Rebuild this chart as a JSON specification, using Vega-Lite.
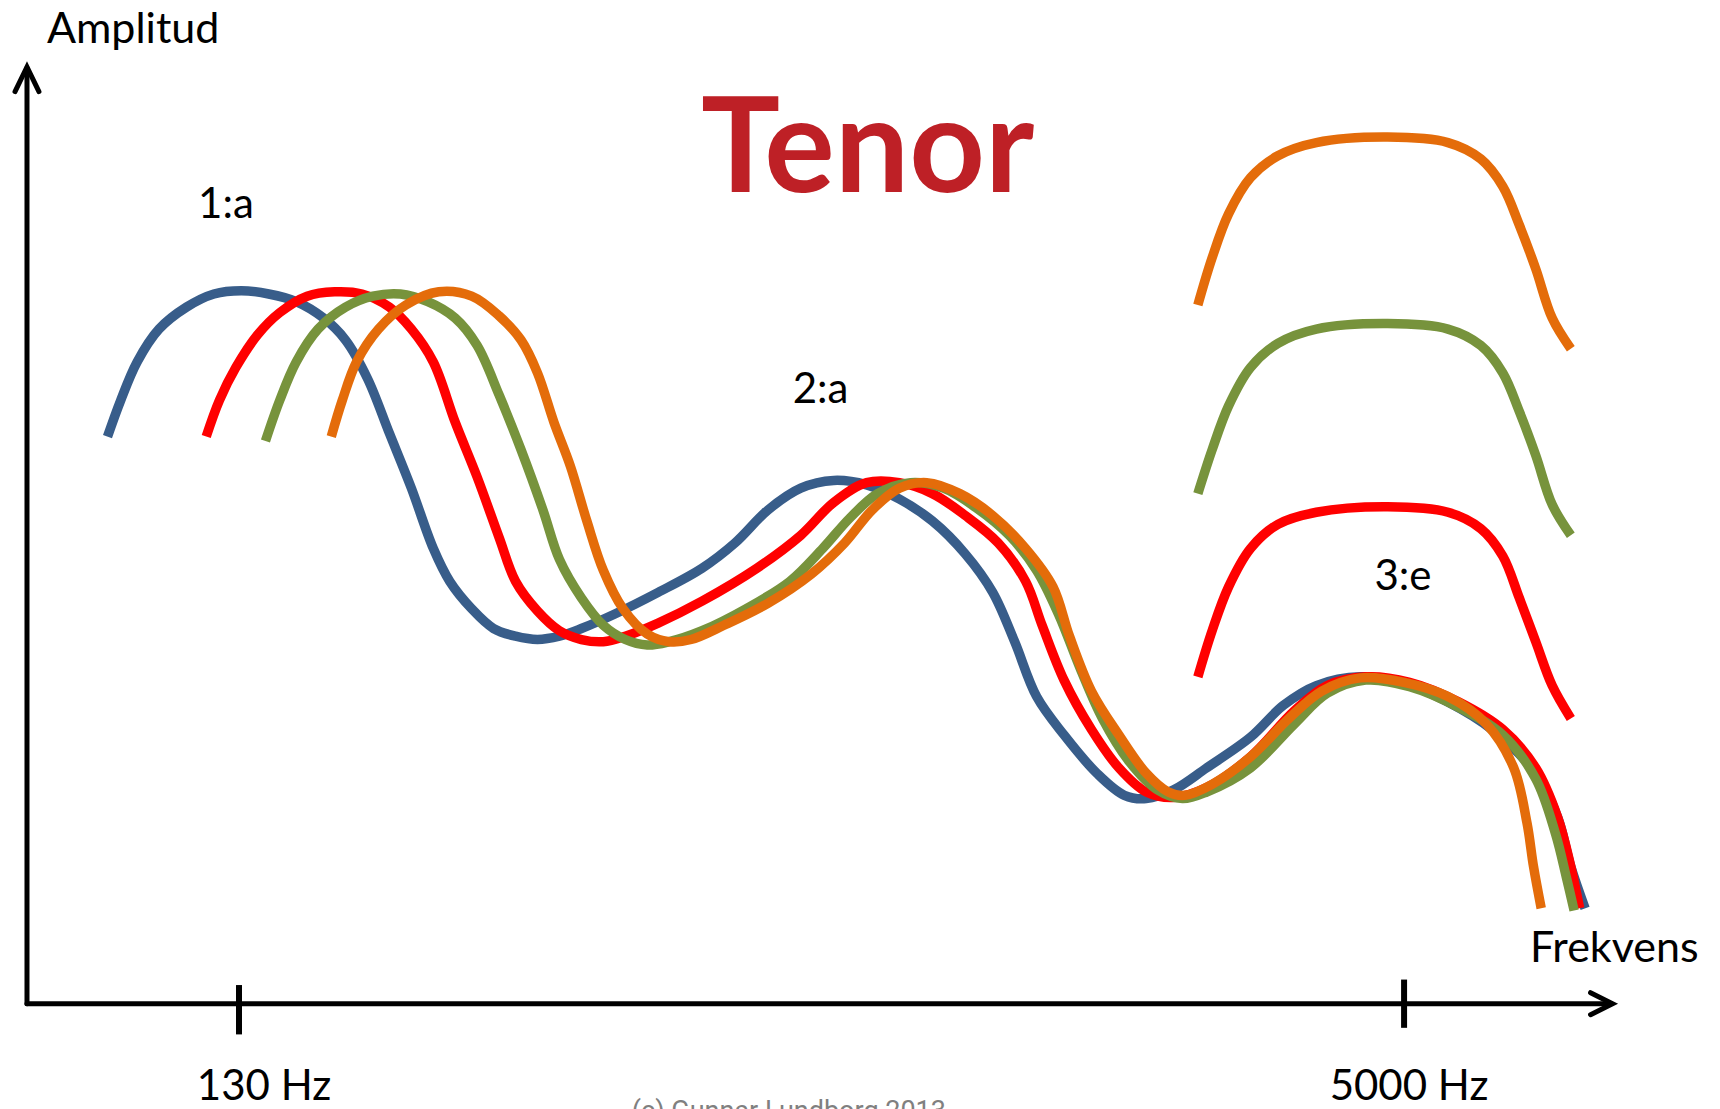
{
  "$schema": "https://vega.github.io/schema/vega-lite/v6.json",
  "width": 1720,
  "height": 1109,
  "padding": 0,
  "autosize": {"type": "none"},
  "background": "white",
  "config": {"view": {"stroke": null}},
  "datasets": {
    "curves": [
      {"kurva": "A", "del": "1", "x": 98, "y": 398},
      {"kurva": "A", "del": "1", "x": 110, "y": 365},
      {"kurva": "A", "del": "1", "x": 125, "y": 330},
      {"kurva": "A", "del": "1", "x": 145, "y": 300},
      {"kurva": "A", "del": "1", "x": 170, "y": 280},
      {"kurva": "A", "del": "1", "x": 195, "y": 268},
      {"kurva": "A", "del": "1", "x": 220, "y": 265},
      {"kurva": "A", "del": "1", "x": 245, "y": 268},
      {"kurva": "A", "del": "1", "x": 270, "y": 275},
      {"kurva": "A", "del": "1", "x": 295, "y": 290},
      {"kurva": "A", "del": "1", "x": 315, "y": 310},
      {"kurva": "A", "del": "1", "x": 335, "y": 345},
      {"kurva": "A", "del": "1", "x": 355, "y": 395},
      {"kurva": "A", "del": "1", "x": 375, "y": 445},
      {"kurva": "A", "del": "1", "x": 395, "y": 500},
      {"kurva": "A", "del": "1", "x": 410, "y": 530},
      {"kurva": "A", "del": "1", "x": 430, "y": 555},
      {"kurva": "A", "del": "1", "x": 450, "y": 573},
      {"kurva": "A", "del": "1", "x": 470, "y": 580},
      {"kurva": "A", "del": "1", "x": 490, "y": 583},
      {"kurva": "A", "del": "1", "x": 510, "y": 580},
      {"kurva": "A", "del": "1", "x": 530, "y": 573},
      {"kurva": "A", "del": "1", "x": 560, "y": 560},
      {"kurva": "A", "del": "1", "x": 600, "y": 540},
      {"kurva": "A", "del": "1", "x": 640, "y": 518},
      {"kurva": "A", "del": "1", "x": 670, "y": 495},
      {"kurva": "A", "del": "1", "x": 700, "y": 465},
      {"kurva": "A", "del": "1", "x": 730, "y": 445},
      {"kurva": "A", "del": "1", "x": 760, "y": 438},
      {"kurva": "A", "del": "1", "x": 790, "y": 442},
      {"kurva": "A", "del": "1", "x": 820, "y": 455},
      {"kurva": "A", "del": "1", "x": 850, "y": 475},
      {"kurva": "A", "del": "1", "x": 880, "y": 505},
      {"kurva": "A", "del": "1", "x": 905, "y": 540},
      {"kurva": "A", "del": "1", "x": 925, "y": 585},
      {"kurva": "A", "del": "1", "x": 945, "y": 635},
      {"kurva": "A", "del": "1", "x": 970, "y": 670},
      {"kurva": "A", "del": "1", "x": 1000, "y": 705},
      {"kurva": "A", "del": "1", "x": 1025, "y": 725},
      {"kurva": "A", "del": "1", "x": 1045, "y": 728},
      {"kurva": "A", "del": "1", "x": 1070, "y": 720},
      {"kurva": "A", "del": "1", "x": 1100, "y": 700},
      {"kurva": "A", "del": "1", "x": 1140, "y": 672},
      {"kurva": "A", "del": "1", "x": 1170, "y": 643},
      {"kurva": "A", "del": "1", "x": 1200, "y": 625},
      {"kurva": "A", "del": "1", "x": 1240, "y": 617},
      {"kurva": "A", "del": "1", "x": 1280, "y": 623},
      {"kurva": "A", "del": "1", "x": 1320, "y": 640},
      {"kurva": "A", "del": "1", "x": 1360, "y": 665},
      {"kurva": "A", "del": "1", "x": 1400, "y": 705},
      {"kurva": "A", "del": "1", "x": 1420, "y": 745},
      {"kurva": "A", "del": "1", "x": 1432, "y": 790},
      {"kurva": "A", "del": "1", "x": 1445, "y": 828},

      {"kurva": "B", "del": "1", "x": 188, "y": 398},
      {"kurva": "B", "del": "1", "x": 200, "y": 365},
      {"kurva": "B", "del": "1", "x": 215, "y": 335},
      {"kurva": "B", "del": "1", "x": 235, "y": 305},
      {"kurva": "B", "del": "1", "x": 255, "y": 285},
      {"kurva": "B", "del": "1", "x": 280, "y": 270},
      {"kurva": "B", "del": "1", "x": 305, "y": 266},
      {"kurva": "B", "del": "1", "x": 330, "y": 268},
      {"kurva": "B", "del": "1", "x": 355, "y": 280},
      {"kurva": "B", "del": "1", "x": 375, "y": 300},
      {"kurva": "B", "del": "1", "x": 395, "y": 330},
      {"kurva": "B", "del": "1", "x": 415, "y": 385},
      {"kurva": "B", "del": "1", "x": 435, "y": 435},
      {"kurva": "B", "del": "1", "x": 455, "y": 490},
      {"kurva": "B", "del": "1", "x": 470, "y": 530},
      {"kurva": "B", "del": "1", "x": 490, "y": 557},
      {"kurva": "B", "del": "1", "x": 510, "y": 575},
      {"kurva": "B", "del": "1", "x": 530, "y": 583},
      {"kurva": "B", "del": "1", "x": 550, "y": 585},
      {"kurva": "B", "del": "1", "x": 570, "y": 580},
      {"kurva": "B", "del": "1", "x": 600, "y": 568},
      {"kurva": "B", "del": "1", "x": 640, "y": 548},
      {"kurva": "B", "del": "1", "x": 690, "y": 518},
      {"kurva": "B", "del": "1", "x": 730, "y": 488},
      {"kurva": "B", "del": "1", "x": 760, "y": 458},
      {"kurva": "B", "del": "1", "x": 790, "y": 440},
      {"kurva": "B", "del": "1", "x": 820, "y": 440},
      {"kurva": "B", "del": "1", "x": 850, "y": 450},
      {"kurva": "B", "del": "1", "x": 880, "y": 470},
      {"kurva": "B", "del": "1", "x": 910, "y": 495},
      {"kurva": "B", "del": "1", "x": 935, "y": 530},
      {"kurva": "B", "del": "1", "x": 950, "y": 570},
      {"kurva": "B", "del": "1", "x": 970, "y": 620},
      {"kurva": "B", "del": "1", "x": 995, "y": 665},
      {"kurva": "B", "del": "1", "x": 1020, "y": 700},
      {"kurva": "B", "del": "1", "x": 1045, "y": 722},
      {"kurva": "B", "del": "1", "x": 1070, "y": 727},
      {"kurva": "B", "del": "1", "x": 1100, "y": 718},
      {"kurva": "B", "del": "1", "x": 1140, "y": 690},
      {"kurva": "B", "del": "1", "x": 1180, "y": 648},
      {"kurva": "B", "del": "1", "x": 1210, "y": 625},
      {"kurva": "B", "del": "1", "x": 1245, "y": 617},
      {"kurva": "B", "del": "1", "x": 1285, "y": 622},
      {"kurva": "B", "del": "1", "x": 1330, "y": 640},
      {"kurva": "B", "del": "1", "x": 1370, "y": 665},
      {"kurva": "B", "del": "1", "x": 1400, "y": 700},
      {"kurva": "B", "del": "1", "x": 1420, "y": 745},
      {"kurva": "B", "del": "1", "x": 1432, "y": 790},
      {"kurva": "B", "del": "1", "x": 1440, "y": 828},

      {"kurva": "C", "del": "1", "x": 242, "y": 402},
      {"kurva": "C", "del": "1", "x": 255, "y": 365},
      {"kurva": "C", "del": "1", "x": 270, "y": 330},
      {"kurva": "C", "del": "1", "x": 290, "y": 300},
      {"kurva": "C", "del": "1", "x": 315, "y": 280},
      {"kurva": "C", "del": "1", "x": 340, "y": 270},
      {"kurva": "C", "del": "1", "x": 365, "y": 268},
      {"kurva": "C", "del": "1", "x": 390, "y": 275},
      {"kurva": "C", "del": "1", "x": 415, "y": 290},
      {"kurva": "C", "del": "1", "x": 435, "y": 315},
      {"kurva": "C", "del": "1", "x": 455, "y": 360},
      {"kurva": "C", "del": "1", "x": 475, "y": 410},
      {"kurva": "C", "del": "1", "x": 495, "y": 465},
      {"kurva": "C", "del": "1", "x": 510, "y": 510},
      {"kurva": "C", "del": "1", "x": 530, "y": 545},
      {"kurva": "C", "del": "1", "x": 550, "y": 570},
      {"kurva": "C", "del": "1", "x": 570, "y": 583},
      {"kurva": "C", "del": "1", "x": 590, "y": 588},
      {"kurva": "C", "del": "1", "x": 610, "y": 585},
      {"kurva": "C", "del": "1", "x": 640, "y": 575},
      {"kurva": "C", "del": "1", "x": 680, "y": 555},
      {"kurva": "C", "del": "1", "x": 720, "y": 530},
      {"kurva": "C", "del": "1", "x": 750, "y": 500},
      {"kurva": "C", "del": "1", "x": 775, "y": 472},
      {"kurva": "C", "del": "1", "x": 800, "y": 450},
      {"kurva": "C", "del": "1", "x": 830, "y": 440},
      {"kurva": "C", "del": "1", "x": 860, "y": 445},
      {"kurva": "C", "del": "1", "x": 890, "y": 463},
      {"kurva": "C", "del": "1", "x": 920, "y": 488},
      {"kurva": "C", "del": "1", "x": 945, "y": 520},
      {"kurva": "C", "del": "1", "x": 965, "y": 560},
      {"kurva": "C", "del": "1", "x": 985, "y": 610},
      {"kurva": "C", "del": "1", "x": 1005, "y": 655},
      {"kurva": "C", "del": "1", "x": 1030, "y": 695},
      {"kurva": "C", "del": "1", "x": 1055, "y": 720},
      {"kurva": "C", "del": "1", "x": 1078, "y": 728},
      {"kurva": "C", "del": "1", "x": 1100, "y": 722},
      {"kurva": "C", "del": "1", "x": 1140, "y": 700},
      {"kurva": "C", "del": "1", "x": 1180, "y": 660},
      {"kurva": "C", "del": "1", "x": 1210, "y": 632},
      {"kurva": "C", "del": "1", "x": 1245, "y": 620},
      {"kurva": "C", "del": "1", "x": 1285, "y": 626},
      {"kurva": "C", "del": "1", "x": 1330, "y": 645},
      {"kurva": "C", "del": "1", "x": 1370, "y": 670},
      {"kurva": "C", "del": "1", "x": 1400, "y": 710},
      {"kurva": "C", "del": "1", "x": 1418, "y": 760},
      {"kurva": "C", "del": "1", "x": 1428, "y": 800},
      {"kurva": "C", "del": "1", "x": 1435, "y": 830},

      {"kurva": "D", "del": "1", "x": 302, "y": 398},
      {"kurva": "D", "del": "1", "x": 312, "y": 365},
      {"kurva": "D", "del": "1", "x": 325, "y": 330},
      {"kurva": "D", "del": "1", "x": 345, "y": 300},
      {"kurva": "D", "del": "1", "x": 370, "y": 278},
      {"kurva": "D", "del": "1", "x": 400, "y": 266},
      {"kurva": "D", "del": "1", "x": 430, "y": 270},
      {"kurva": "D", "del": "1", "x": 455, "y": 288},
      {"kurva": "D", "del": "1", "x": 475, "y": 310},
      {"kurva": "D", "del": "1", "x": 490, "y": 340},
      {"kurva": "D", "del": "1", "x": 505, "y": 385},
      {"kurva": "D", "del": "1", "x": 520, "y": 425},
      {"kurva": "D", "del": "1", "x": 535, "y": 475},
      {"kurva": "D", "del": "1", "x": 550, "y": 520},
      {"kurva": "D", "del": "1", "x": 568, "y": 555},
      {"kurva": "D", "del": "1", "x": 590, "y": 578},
      {"kurva": "D", "del": "1", "x": 610, "y": 585},
      {"kurva": "D", "del": "1", "x": 630, "y": 583},
      {"kurva": "D", "del": "1", "x": 660, "y": 570},
      {"kurva": "D", "del": "1", "x": 700, "y": 550},
      {"kurva": "D", "del": "1", "x": 740, "y": 523},
      {"kurva": "D", "del": "1", "x": 770, "y": 495},
      {"kurva": "D", "del": "1", "x": 795, "y": 465},
      {"kurva": "D", "del": "1", "x": 820, "y": 445},
      {"kurva": "D", "del": "1", "x": 845, "y": 440},
      {"kurva": "D", "del": "1", "x": 875, "y": 450},
      {"kurva": "D", "del": "1", "x": 905, "y": 470},
      {"kurva": "D", "del": "1", "x": 935, "y": 500},
      {"kurva": "D", "del": "1", "x": 960, "y": 535},
      {"kurva": "D", "del": "1", "x": 975, "y": 580},
      {"kurva": "D", "del": "1", "x": 995, "y": 630},
      {"kurva": "D", "del": "1", "x": 1020, "y": 670},
      {"kurva": "D", "del": "1", "x": 1045, "y": 705},
      {"kurva": "D", "del": "1", "x": 1065, "y": 722},
      {"kurva": "D", "del": "1", "x": 1080, "y": 725},
      {"kurva": "D", "del": "1", "x": 1105, "y": 715},
      {"kurva": "D", "del": "1", "x": 1140, "y": 690},
      {"kurva": "D", "del": "1", "x": 1175, "y": 655},
      {"kurva": "D", "del": "1", "x": 1205, "y": 630},
      {"kurva": "D", "del": "1", "x": 1240, "y": 618},
      {"kurva": "D", "del": "1", "x": 1280, "y": 622},
      {"kurva": "D", "del": "1", "x": 1320, "y": 635},
      {"kurva": "D", "del": "1", "x": 1355, "y": 660},
      {"kurva": "D", "del": "1", "x": 1380, "y": 700},
      {"kurva": "D", "del": "1", "x": 1392, "y": 750},
      {"kurva": "D", "del": "1", "x": 1398, "y": 790},
      {"kurva": "D", "del": "1", "x": 1405, "y": 828},

      {"kurva": "B", "del": "3e", "x": 1092, "y": 617},
      {"kurva": "B", "del": "3e", "x": 1105, "y": 575},
      {"kurva": "B", "del": "3e", "x": 1120, "y": 535},
      {"kurva": "B", "del": "3e", "x": 1140, "y": 500},
      {"kurva": "B", "del": "3e", "x": 1165, "y": 478},
      {"kurva": "B", "del": "3e", "x": 1200, "y": 467},
      {"kurva": "B", "del": "3e", "x": 1265, "y": 462},
      {"kurva": "B", "del": "3e", "x": 1320, "y": 467},
      {"kurva": "B", "del": "3e", "x": 1350, "y": 482},
      {"kurva": "B", "del": "3e", "x": 1370, "y": 507},
      {"kurva": "B", "del": "3e", "x": 1385, "y": 545},
      {"kurva": "B", "del": "3e", "x": 1400, "y": 585},
      {"kurva": "B", "del": "3e", "x": 1415, "y": 625},
      {"kurva": "B", "del": "3e", "x": 1432, "y": 655},

      {"kurva": "C", "del": "3e", "x": 1092, "y": 450},
      {"kurva": "C", "del": "3e", "x": 1105, "y": 410},
      {"kurva": "C", "del": "3e", "x": 1120, "y": 370},
      {"kurva": "C", "del": "3e", "x": 1140, "y": 335},
      {"kurva": "C", "del": "3e", "x": 1165, "y": 313},
      {"kurva": "C", "del": "3e", "x": 1200, "y": 300},
      {"kurva": "C", "del": "3e", "x": 1265, "y": 295},
      {"kurva": "C", "del": "3e", "x": 1320, "y": 300},
      {"kurva": "C", "del": "3e", "x": 1350, "y": 315},
      {"kurva": "C", "del": "3e", "x": 1370, "y": 340},
      {"kurva": "C", "del": "3e", "x": 1385, "y": 375},
      {"kurva": "C", "del": "3e", "x": 1400, "y": 415},
      {"kurva": "C", "del": "3e", "x": 1415, "y": 460},
      {"kurva": "C", "del": "3e", "x": 1432, "y": 488},

      {"kurva": "D", "del": "3e", "x": 1092, "y": 278},
      {"kurva": "D", "del": "3e", "x": 1105, "y": 235},
      {"kurva": "D", "del": "3e", "x": 1120, "y": 195},
      {"kurva": "D", "del": "3e", "x": 1140, "y": 162},
      {"kurva": "D", "del": "3e", "x": 1165, "y": 142},
      {"kurva": "D", "del": "3e", "x": 1200, "y": 130},
      {"kurva": "D", "del": "3e", "x": 1265, "y": 125},
      {"kurva": "D", "del": "3e", "x": 1320, "y": 130},
      {"kurva": "D", "del": "3e", "x": 1350, "y": 145},
      {"kurva": "D", "del": "3e", "x": 1370, "y": 170},
      {"kurva": "D", "del": "3e", "x": 1385, "y": 205},
      {"kurva": "D", "del": "3e", "x": 1400, "y": 245},
      {"kurva": "D", "del": "3e", "x": 1415, "y": 290},
      {"kurva": "D", "del": "3e", "x": 1432, "y": 318}
    ],
    "axes": [
      {"del": "y", "o": 1, "x": 24.6, "y": 915},
      {"del": "y", "o": 2, "x": 24.6, "y": 62},
      {"del": "yh", "o": 1, "x": 13.7, "y": 83.5},
      {"del": "yh", "o": 2, "x": 24.6, "y": 61},
      {"del": "yh", "o": 3, "x": 35.5, "y": 83.5},
      {"del": "x", "o": 1, "x": 24.6, "y": 915},
      {"del": "x", "o": 2, "x": 1469, "y": 915},
      {"del": "xh", "o": 1, "x": 1450, "y": 905},
      {"del": "xh", "o": 2, "x": 1470, "y": 915},
      {"del": "xh", "o": 3, "x": 1450, "y": 925}
    ],
    "ticks": [
      {"x": 217.9, "y": 898, "y2": 943},
      {"x": 1280, "y": 893, "y2": 937}
    ],
    "leftLabels": [
      {"text": "Amplitud", "x": 42.8, "y": 39.2},
      {"text": "Frekvens", "x": 1394.7, "y": 877}
    ],
    "centerLabels": [
      {"text": "130 Hz", "x": 240.7, "y": 1003},
      {"text": "5000 Hz", "x": 1284.5, "y": 1003},
      {"text": "1:a", "x": 206, "y": 199},
      {"text": "2:a", "x": 748, "y": 367},
      {"text": "3:e", "x": 1279, "y": 538}
    ],
    "title": [{"text": "Tenor", "x": 639, "y": 175}],
    "credit": [{"text": "(c) Gunnar Lundborg 2013", "x": 576, "y": 1002}]
  },
  "layer": [
    {
      "data": {"name": "axes"},
      "mark": {"type": "line", "stroke": "black", "strokeWidth": 5, "strokeCap": "round", "strokeJoin": "miter"},
      "encoding": {
        "x": {"field": "x", "type": "quantitative", "scale": {"domain": [0, 1568], "nice": false, "zero": false}, "axis": null},
        "y": {"field": "y", "type": "quantitative", "scale": {"domain": [0, 1011], "reverse": true, "nice": false, "zero": false}, "axis": null},
        "detail": {"field": "del"},
        "order": {"field": "o"}
      }
    },
    {
      "data": {"name": "ticks"},
      "mark": {"type": "rule", "stroke": "black", "strokeWidth": 6},
      "encoding": {
        "x": {"field": "x", "type": "quantitative"},
        "y": {"field": "y", "type": "quantitative"},
        "y2": {"field": "y2"}
      }
    },
    {
      "data": {"name": "curves"},
      "mark": {"type": "line", "interpolate": "catmull-rom", "strokeWidth": 9.5, "strokeCap": "butt", "strokeJoin": "round"},
      "encoding": {
        "x": {"field": "x", "type": "quantitative"},
        "y": {"field": "y", "type": "quantitative"},
        "color": {"field": "kurva", "type": "nominal", "legend": null,
          "scale": {"domain": ["A", "B", "C", "D"], "range": ["#385D8A", "#FF0000", "#77933C", "#E46C0A"]}},
        "detail": {"field": "del"}
      }
    },
    {
      "data": {"name": "leftLabels"},
      "mark": {"type": "text", "font": "Lato", "fontSize": 43, "color": "black", "align": "left", "baseline": "alphabetic"},
      "encoding": {
        "x": {"field": "x", "type": "quantitative"},
        "y": {"field": "y", "type": "quantitative"},
        "text": {"field": "text"}
      }
    },
    {
      "data": {"name": "centerLabels"},
      "mark": {"type": "text", "font": "Lato", "fontSize": 42, "color": "black", "align": "center", "baseline": "alphabetic"},
      "encoding": {
        "x": {"field": "x", "type": "quantitative"},
        "y": {"field": "y", "type": "quantitative"},
        "text": {"field": "text"}
      }
    },
    {
      "data": {"name": "title"},
      "mark": {"type": "text", "font": "Lato", "fontSize": 132, "fontWeight": "bold", "color": "#BE2026", "align": "left", "baseline": "alphabetic"},
      "encoding": {
        "x": {"field": "x", "type": "quantitative"},
        "y": {"field": "y", "type": "quantitative"},
        "text": {"field": "text"}
      }
    },
    {
      "data": {"name": "credit"},
      "mark": {"type": "text", "font": "Roboto", "fontSize": 27, "color": "#808080", "align": "left", "baseline": "top"},
      "encoding": {
        "x": {"field": "x", "type": "quantitative"},
        "y": {"field": "y", "type": "quantitative"},
        "text": {"field": "text"}
      }
    }
  ]
}
